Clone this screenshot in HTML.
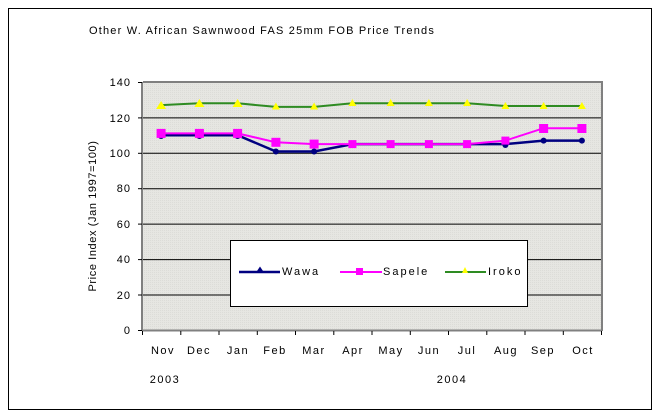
<!DOCTYPE html>
<html><head><meta charset="utf-8"><style>
html,body{margin:0;padding:0;background:#fff;}
svg{display:block;font-family:"Liberation Sans",Arial,sans-serif;}
</style></head><body>
<svg width="660" height="420" viewBox="0 0 660 420" xmlns="http://www.w3.org/2000/svg">
<defs>
<pattern id="p" width="2" height="2" patternUnits="userSpaceOnUse">
<rect width="2" height="2" fill="#e6e6e2"/><rect width="1" height="1" fill="#dcdcd8"/>
</pattern>
</defs>
<rect x="8.5" y="8.5" width="643" height="401" fill="#fff" stroke="#000" stroke-width="1"/>
<text x="262" y="34" font-size="11" text-anchor="middle" letter-spacing="1.2">Other W. African Sawnwood FAS 25mm FOB Price Trends</text>
<rect x="143" y="82" width="459" height="248" fill="url(#p)"/>
<g stroke="#000" stroke-width="1">
<line x1="143" y1="82.5" x2="602" y2="82.5"/>
<line x1="143" y1="117.9" x2="602" y2="117.9"/>
<line x1="143" y1="153.3" x2="602" y2="153.3"/>
<line x1="143" y1="188.7" x2="602" y2="188.7"/>
<line x1="143" y1="224.1" x2="602" y2="224.1"/>
<line x1="143" y1="259.6" x2="602" y2="259.6"/>
<line x1="143" y1="295" x2="602" y2="295"/>
</g>
<line x1="143" y1="82" x2="602" y2="82" stroke="#808080" stroke-width="2"/>
<line x1="602" y1="81" x2="602" y2="331" stroke="#808080" stroke-width="2"/>
<line x1="142" y1="82" x2="142" y2="331" stroke="#808080" stroke-width="2"/>
<line x1="142" y1="330.5" x2="602" y2="330.5" stroke="#808080" stroke-width="2"/>
<g stroke="#000" stroke-width="1">
<line x1="138" y1="82.5" x2="142" y2="82.5"/><line x1="138" y1="117.9" x2="142" y2="117.9"/>
<line x1="138" y1="153.3" x2="142" y2="153.3"/><line x1="138" y1="188.7" x2="142" y2="188.7"/>
<line x1="138" y1="224.1" x2="142" y2="224.1"/><line x1="138" y1="259.6" x2="142" y2="259.6"/>
<line x1="138" y1="295" x2="142" y2="295"/><line x1="138" y1="330.5" x2="142" y2="330.5"/>
<path d="M142.5 331v4M180.8 331v4M219 331v4M257.3 331v4M295.5 331v4M333.8 331v4M372 331v4M410.3 331v4M448.5 331v4M486.8 331v4M525 331v4M563.3 331v4M601.5 331v4"/>
</g>
<g font-size="11" text-anchor="end" letter-spacing="1">
<text x="131" y="86">140</text><text x="131" y="122">120</text><text x="131" y="157">100</text>
<text x="131" y="192">80</text><text x="131" y="228">60</text><text x="131" y="263">40</text>
<text x="131" y="299">20</text><text x="131" y="334">0</text>
</g>
<text transform="translate(96,216) rotate(-90)" font-size="11" text-anchor="middle" letter-spacing="0.6">Price Index (Jan 1997=100)</text>
<g font-size="11" text-anchor="middle" letter-spacing="1.5">
<text x="163" y="354">Nov</text><text x="199" y="354">Dec</text><text x="238" y="354">Jan</text>
<text x="275" y="354">Feb</text><text x="314" y="354">Mar</text><text x="353" y="354">Apr</text>
<text x="391" y="354">May</text><text x="429" y="354">Jun</text><text x="467" y="354">Jul</text>
<text x="506" y="354">Aug</text><text x="543" y="354">Sep</text><text x="583" y="354">Oct</text>
<text x="165" y="383">2003</text><text x="452" y="383">2004</text>
</g>
<!-- Iroko -->
<polyline fill="none" stroke="#2e8b22" stroke-width="2" points="161.1,105.1 199.4,103.3 237.6,103.3 275.9,106.9 314.1,106.9 352.4,103.3 390.6,103.3 428.9,103.3 467.1,103.3 505.4,106 543.6,106 581.9,106"/>
<g fill="#ffff00">
<path d="M161.1,101l-5,8h10z M199.4,99l-5,8h10z M237.6,99l-5,8h10z M275.9,102.5l-4,7h8z M314.1,102.5l-4,7h8z M352.4,99l-4,7h8z M390.6,99l-4,7h8z M428.9,99l-4,7h8z M467.1,99l-4,7h8z M505.4,102l-4,7h8z M543.6,102l-4,7h8z M581.9,102l-4,7h8z"/>
</g>
<!-- Wawa -->
<polyline fill="none" stroke="#000080" stroke-width="2.5" points="161.1,135.2 199.4,135.2 237.6,135.2 275.9,151.5 314.1,151.5 352.4,144.1 390.6,144.1 428.9,144.1 467.1,144.1 505.4,144.1 543.6,140.6 581.9,140.6"/>
<g fill="#000080">
<circle cx="161.1" cy="136" r="3"/><circle cx="199.4" cy="136" r="3"/><circle cx="237.6" cy="136" r="3"/>
<circle cx="275.9" cy="151.5" r="3"/><circle cx="314.1" cy="151.5" r="3"/><circle cx="352.4" cy="144.6" r="3"/>
<circle cx="390.6" cy="144.6" r="3"/><circle cx="428.9" cy="144.6" r="3"/><circle cx="467.1" cy="144.6" r="3"/>
<circle cx="505.4" cy="145" r="3"/><circle cx="543.6" cy="140.6" r="3"/><circle cx="581.9" cy="140.6" r="3"/>
</g>
<!-- Sapele -->
<polyline fill="none" stroke="#ff00ff" stroke-width="2" points="161.1,133.4 199.4,133.4 237.6,133.4 275.9,142.3 314.1,144.1 352.4,144.1 390.6,144.1 428.9,144.1 467.1,144.1 505.4,140.6 543.6,128.2 581.9,128.2"/>
<g fill="#ff00ff">
<rect x="156.6" y="128.9" width="9" height="9"/><rect x="194.9" y="128.9" width="9" height="9"/><rect x="233.1" y="128.9" width="9" height="9"/>
<rect x="271.4" y="137.8" width="9" height="9"/><rect x="309.6" y="139.6" width="9" height="9"/><rect x="348.4" y="140.1" width="8" height="8"/>
<rect x="386.6" y="140.1" width="8" height="8"/><rect x="424.9" y="140.1" width="8" height="8"/><rect x="463.1" y="140.1" width="8" height="8"/>
<rect x="501.4" y="136.6" width="8" height="8"/><rect x="539.1" y="124" width="9" height="9"/><rect x="577.4" y="124" width="9" height="9"/>
</g>
<!-- Legend -->
<rect x="230.5" y="240.5" width="297" height="66" fill="#fff" stroke="#000" stroke-width="1"/>
<line x1="239" y1="272" x2="280" y2="272" stroke="#000080" stroke-width="2.5"/>
<path d="M260,266.5l-4,6h8z" fill="#000080"/>
<text x="282" y="275" font-size="11" letter-spacing="2">Wawa</text>
<line x1="340" y1="272" x2="382" y2="272" stroke="#ff00ff" stroke-width="2"/>
<rect x="356" y="268" width="7" height="7" fill="#ff00ff"/>
<text x="383" y="275" font-size="11" letter-spacing="2">Sapele</text>
<line x1="445" y1="272" x2="486" y2="272" stroke="#2e8b22" stroke-width="2"/>
<path d="M465,267l-3,6h6z" fill="#ffff00"/>
<text x="488" y="275" font-size="11" letter-spacing="2">Iroko</text>
</svg>
</body></html>
